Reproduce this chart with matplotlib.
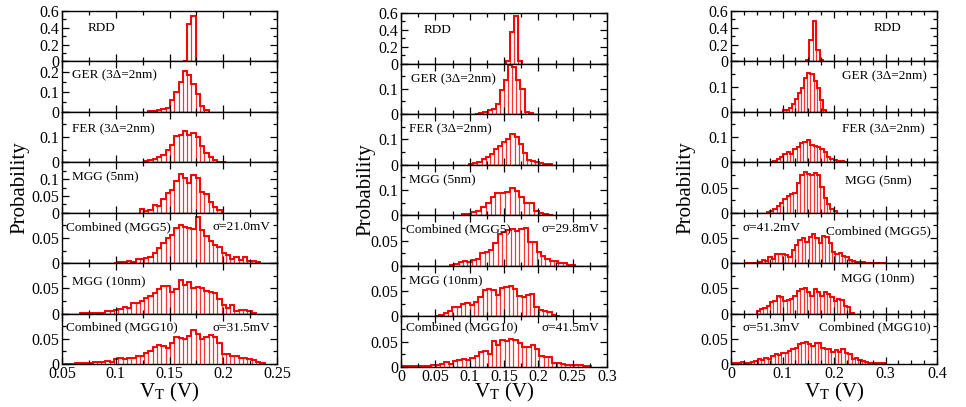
import numpy as np
import matplotlib
matplotlib.use('Agg')
import matplotlib.pyplot as plt
from matplotlib.ticker import MultipleLocator, FuncFormatter

plt.rcParams['font.family'] = ['Liberation Serif', 'DejaVu Serif']
plt.rcParams['mathtext.fontset'] = 'stix'

panel_names = ['RDD', 'GER (3Δ=2nm)', 'FER (3Δ=2nm)', 'MGG (5nm)',
               'Combined (MGG5)', 'MGG (10nm)', 'Combined (MGG10)']

# ---- column 1 ----
c1_start = [0.1624, 0.1304, 0.1264, 0.1224, 0.0984, 0.0664, 0.0504]
c1_width = [0.004] * 7
c1_probs = [
    [0.01, 0.44, 0.54],
    [0.003, 0.004, 0.01, 0.015, 0.02, 0.061, 0.098, 0.15, 0.203, 0.185, 0.139, 0.09, 0.028, 0.008],
    [0.004, 0.008, 0.013, 0.02, 0.03, 0.047, 0.067, 0.104, 0.109, 0.125, 0.11, 0.117, 0.1, 0.066,
     0.038, 0.021, 0.008, 0.003, 0.001],
    [0.01, 0.005, 0.008, 0.024, 0.02, 0.042, 0.059, 0.067, 0.093, 0.114, 0.104, 0.087, 0.112, 0.102,
     0.063, 0.057, 0.031, 0.016, 0.008],
    [0.001, 0.003, 0.003, 0.005, 0.003, 0.008, 0.008, 0.011, 0.013, 0.021, 0.03, 0.039, 0.049, 0.056,
     0.069, 0.076, 0.072, 0.069, 0.067, 0.091, 0.066, 0.054, 0.043, 0.036, 0.033, 0.021, 0.016, 0.009,
     0.013, 0.007, 0.013, 0.005, 0.005, 0.003],
    [0.001, 0.001, 0.001, 0.001, 0.001, 0.001, 0.005, 0.006, 0.007, 0.009, 0.014, 0.012, 0.021, 0.02,
     0.025, 0.031, 0.034, 0.04, 0.049, 0.054, 0.054, 0.042, 0.049, 0.067, 0.057, 0.062, 0.05, 0.052,
     0.05, 0.045, 0.043, 0.04, 0.029, 0.017, 0.011, 0.017, 0.005, 0.007, 0.007, 0.005, 0.002],
    [0.0005, 0.0005, 0.0005, 0.001, 0.002, 0.002, 0.002, 0.003, 0.003, 0.004, 0.005, 0.004, 0.01,
     0.011, 0.01, 0.011, 0.011, 0.015, 0.015, 0.022, 0.025, 0.033, 0.037, 0.035, 0.031, 0.042, 0.053,
     0.052, 0.05, 0.055, 0.067, 0.06, 0.049, 0.054, 0.057, 0.054, 0.042, 0.02, 0.019, 0.015, 0.015,
     0.012, 0.012, 0.01, 0.007, 0.003, 0.001],
]
c1_ymax = [0.6, 0.25, 0.2, 0.15, 0.1, 0.1, 0.1]
c1_ystep = [0.2, 0.1, 0.1, 0.05, 0.05, 0.05, 0.05]
c1_sigma = ['σ=21.0mV', 'σ=31.5mV']

# ---- column 2 ----
c2_start = [0.1527, 0.108, 0.0993, 0.0884, 0.0714, 0.0495, 0.0]
c2_width = [0.006, 0.006, 0.006, 0.007, 0.0063, 0.0063, 0.0063]
c2_probs = [
    [0.03, 0.38, 0.56, 0.03],
    [0.002, 0.003, 0.008, 0.016, 0.019, 0.039, 0.096, 0.136, 0.196, 0.187, 0.136, 0.099, 0.009, 0.003],
    [0.003, 0.005, 0.012, 0.021, 0.032, 0.042, 0.061, 0.075, 0.088, 0.1, 0.12, 0.111, 0.08, 0.045,
     0.018, 0.014, 0.009, 0.008, 0.004, 0.003],
    [0.004, 0.007, 0.013, 0.017, 0.033, 0.049, 0.071, 0.087, 0.089, 0.093, 0.107, 0.097, 0.073, 0.047,
     0.047, 0.017, 0.011, 0.007, 0.003],
    [0.001, 0.004, 0.007, 0.01, 0.007, 0.012, 0.013, 0.025, 0.027, 0.032, 0.045, 0.063, 0.066, 0.07,
     0.072, 0.068, 0.072, 0.074, 0.048, 0.048, 0.028, 0.02, 0.013, 0.01, 0.009, 0.005, 0.005, 0.002,
     0.001],
    [0.001, 0.003, 0.006, 0.011, 0.018, 0.019, 0.025, 0.026, 0.023, 0.029, 0.038, 0.052, 0.054, 0.052,
     0.042, 0.057, 0.058, 0.06, 0.055, 0.04, 0.038, 0.042, 0.045, 0.018, 0.013, 0.01, 0.008, 0.003,
     0.001],
    [0.001, 0.001, 0.001, 0.001, 0.001, 0.002, 0.002, 0.003, 0.003, 0.005, 0.01, 0.006, 0.012, 0.014,
     0.016, 0.013, 0.018, 0.021, 0.029, 0.032, 0.026, 0.051, 0.044, 0.053, 0.051, 0.056, 0.053, 0.048,
     0.04, 0.04, 0.044, 0.035, 0.021, 0.019, 0.019, 0.008, 0.008, 0.006, 0.004, 0.004, 0.003, 0.003,
     0.001, 0.001],
]
c2_ymax = [0.6, 0.2, 0.2, 0.2, 0.1, 0.1, 0.1]
c2_ystep = [0.2, 0.1, 0.1, 0.1, 0.05, 0.05, 0.05]
c2_sigma = ['σ=29.8mV', 'σ=41.5mV']

# ---- column 3 ----
c3_start = [0.1447, 0.1003, 0.0757, 0.0693, 0.027, 0.0498, 0.0]
c3_width = [0.0068, 0.006, 0.0065, 0.0065, 0.0065, 0.0065, 0.0065]
c3_probs = [
    [0.02, 0.25, 0.48, 0.14, 0.02],
    [0.006, 0.009, 0.017, 0.032, 0.052, 0.074, 0.095, 0.134, 0.156, 0.152, 0.123, 0.095, 0.049, 0.006],
    [0.003, 0.007, 0.013, 0.021, 0.032, 0.041, 0.032, 0.054, 0.06, 0.076, 0.08, 0.087, 0.067, 0.064,
     0.06, 0.054, 0.041, 0.021, 0.013, 0.011, 0.007, 0.005, 0.003],
    [0.002, 0.004, 0.008, 0.013, 0.02, 0.028, 0.033, 0.038, 0.04, 0.059, 0.075, 0.08, 0.077, 0.074,
     0.078, 0.074, 0.051, 0.03, 0.018, 0.008, 0.003],
    [0.001, 0.001, 0.001, 0.001, 0.003, 0.006, 0.005, 0.012, 0.008, 0.018, 0.019, 0.018, 0.016, 0.012,
     0.026, 0.036, 0.045, 0.049, 0.042, 0.052, 0.057, 0.049, 0.039, 0.053, 0.051, 0.039, 0.023, 0.019,
     0.021, 0.014, 0.012, 0.006, 0.005, 0.003, 0.003, 0.003, 0.001, 0.001, 0.001, 0.0, 0.0, 0.001],
    [0.005, 0.009, 0.012, 0.015, 0.022, 0.025, 0.035, 0.032, 0.025, 0.027, 0.029, 0.035, 0.045, 0.049,
     0.05, 0.043, 0.035, 0.049, 0.042, 0.035, 0.043, 0.039, 0.032, 0.025, 0.029, 0.027, 0.015, 0.014,
     0.002],
    [0.001, 0.001, 0.001, 0.003, 0.002, 0.002, 0.003, 0.005, 0.01, 0.007, 0.012, 0.01, 0.015, 0.019,
     0.017, 0.022, 0.021, 0.025, 0.029, 0.032, 0.039, 0.041, 0.043, 0.039, 0.035, 0.042, 0.041, 0.032,
     0.03, 0.029, 0.023, 0.027, 0.023, 0.029, 0.022, 0.019, 0.01, 0.012, 0.007, 0.005, 0.003, 0.002,
     0.002, 0.001, 0.001, 0.001],
]
c3_ymax = [0.6, 0.2, 0.2, 0.1, 0.1, 0.1, 0.1]
c3_ystep = [0.2, 0.1, 0.1, 0.05, 0.05, 0.05, 0.05]
c3_sigma = ['σ=41.2mV', 'σ=51.3mV']

xlims = [(0.05, 0.25), (0.0, 0.3), (0.0, 0.4)]
xmajor = [0.05, 0.05, 0.1]

W, H = 966, 407
fig = plt.figure(figsize=(W / 100, H / 100), dpi=100)

# column boxes in pixels: left, right, top, bottom
boxes = [(62, 277, 11, 364), (401, 607, 13, 367), (731, 937, 11, 364)]
ylab_x = [19.5, 366, 686]

# label layout per column: (x, y, ha) in axes fraction for each panel
name_pos = [
    [(0.12, 0.66, 'left'), (0.047, 0.72, 'left'), (0.047, 0.66, 'left'), (0.047, 0.70, 'left'),
     (0.019, 0.72, 'left'), (0.047, 0.62, 'left'), (0.019, 0.72, 'left')],
    [(0.11, 0.66, 'left'), (0.05, 0.68, 'left'), (0.04, 0.70, 'left'), (0.04, 0.70, 'left'),
     (0.025, 0.72, 'left'), (0.04, 0.70, 'left'), (0.025, 0.78, 'left')],
    [(0.825, 0.66, 'right'), (0.951, 0.70, 'right'), (0.942, 0.66, 'right'), (0.879, 0.62, 'right'),
     (0.971, 0.64, 'right'), (0.893, 0.68, 'right'), (0.971, 0.72, 'right')],
]
sigma_pos = [
    [(0.70, 0.72), (0.70, 0.72)],
    [(0.68, 0.72), (0.68, 0.78)],
    [(0.058, 0.70), (0.058, 0.72)],
]

columns = [
    (c1_start, c1_width, c1_probs, c1_ymax, c1_ystep, c1_sigma),
    (c2_start, c2_width, c2_probs, c2_ymax, c2_ystep, c2_sigma),
    (c3_start, c3_width, c3_probs, c3_ymax, c3_ystep, c3_sigma),
]

for ci, (starts, widths, probs, ymaxs, ysteps, sigmas) in enumerate(columns):
    left, right, top, bottom = boxes[ci]
    ph = (bottom - top) / 7.0
    for k in range(7):
        ytop = top + k * ph
        ax = fig.add_axes([left / W, 1 - (ytop + ph) / H, (right - left) / W, ph / H])
        p = np.array(probs[k])
        edges = starts[k] + widths[k] * np.arange(len(p) + 1)
        ax.bar(edges[:-1], p, width=widths[k], align='edge', facecolor='none',
               edgecolor='#ff3333', linewidth=0.8)
        ax.stairs(p, edges, color='red', linewidth=1.4, baseline=0)
        ax.set_xlim(*xlims[ci])
        ax.set_ylim(0, ymaxs[k])
        for sp in ax.spines.values():
            sp.set_linewidth(1.0)
        ax.tick_params(which='both', direction='in', top=True, right=True, width=0.9,
                       labelsize=11.5)
        ax.tick_params(axis='y', pad=2)
        ax.tick_params(axis='x', pad=1.5)
        ax.tick_params(which='major', length=5)
        ax.tick_params(which='minor', length=3)
        ax.xaxis.set_major_locator(MultipleLocator(xmajor[ci]))
        ax.xaxis.set_minor_locator(MultipleLocator(0.025))
        ax.yaxis.set_major_locator(MultipleLocator(ysteps[k]))
        ax.yaxis.set_minor_locator(MultipleLocator(ysteps[k] / 2))
        ymax = ymaxs[k]
        first = (k == 0)

        def yfmt(v, _, ymax=ymax, first=first):
            if not first and abs(v - ymax) < 1e-9:
                return ''
            return '%g' % round(v, 4)
        ax.yaxis.set_major_formatter(FuncFormatter(yfmt))
        if k == 6:
            ax.xaxis.set_major_formatter(FuncFormatter(lambda v, _: '%g' % round(v, 4)))
        else:
            ax.tick_params(labelbottom=False)

        nx, ny, ha = name_pos[ci][k]
        ax.text(nx, ny, panel_names[k], transform=ax.transAxes, ha=ha, va='center',
                fontsize=9.5)
        if k == 4:
            sx, sy = sigma_pos[ci][0]
            ax.text(sx, sy, sigmas[0], transform=ax.transAxes, ha='left', va='center',
                    fontsize=9.5)
        if k == 6:
            sx, sy = sigma_pos[ci][1]
            ax.text(sx, sy, sigmas[1], transform=ax.transAxes, ha='left', va='center',
                    fontsize=9.5)

    fig.text(ylab_x[ci] / W, 1 - ((top + bottom) / 2) / H, 'Probability', rotation=90,
             ha='center', va='center', fontsize=15)
    fig.text(((left + right) / 2) / W, 1 - 392 / H, r'V$_\mathrm{T}$ (V)',
             ha='center', va='center', fontsize=15)

fig.savefig('out.png', dpi=100)
